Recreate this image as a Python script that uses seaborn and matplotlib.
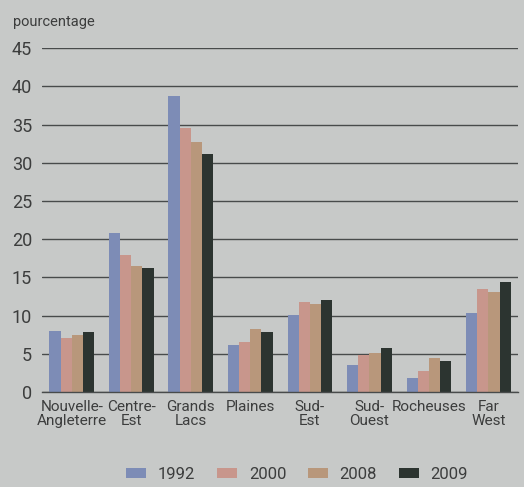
import matplotlib
matplotlib.use("Agg")
import matplotlib.pyplot as plt
import seaborn as sns
import numpy as np
import pandas as pd

# DATA
regions = ["Nouvelle-\nAngleterre", "Centre-\nEst", "Grands\nLacs", "Plaines",
           "Sud-\nEst", "Sud-\nOuest", "Rocheuses", "Far\nWest"]
years = ["1992", "2000", "2008", "2009"]
v1992 = [8.0, 20.8, 38.7, 6.2, 10.1, 3.5, 1.8, 10.4]
v2000 = [7.1, 17.9, 34.5, 6.6, 11.8, 4.8, 2.8, 13.5]
v2008 = [7.5, 16.5, 32.7, 8.3, 11.5, 5.1, 4.4, 13.1]
v2009 = [7.8, 16.2, 31.2, 7.8, 12.1, 5.7, 4.1, 14.4]
yticks = [0, 5, 10, 15, 20, 25, 30, 35, 40, 45]

colors = ["#7d8cb6", "#c8968c", "#b8977b", "#2c3430"]
bg = "#c7c9c8"
txt = "#3c3d3d"

df = pd.DataFrame({
    "region": regions * 4,
    "year": np.repeat(years, len(regions)),
    "value": v1992 + v2000 + v2008 + v2009,
})

# STYLE
sns.set_theme(style="white")
plt.rcParams["font.family"] = ["Roboto", "DejaVu Sans"]

fig = plt.figure(figsize=(5.24, 4.87), dpi=100, facecolor=bg)
ax = fig.add_axes([0.080, 0.195, 0.909, 0.706])
ax.set_facecolor(bg)

sns.barplot(data=df, x="region", y="value", hue="year", palette=colors,
            width=0.75, gap=0, linewidth=0, saturation=1, ax=ax, legend=True)

ax.set_ylim(0, 45)
ax.set_xlim(-0.5, len(regions) - 0.5)
ax.set_yticks(yticks)
ax.set_axisbelow(True)
ax.yaxis.grid(True, color="#484b4b", linewidth=1.0)
ax.xaxis.grid(False)

for s in ["top", "right", "left"]:
    ax.spines[s].set_visible(False)
ax.spines["bottom"].set_color("#484b4b")
ax.spines["bottom"].set_linewidth(1.0)

ax.tick_params(axis="y", length=0, pad=7, labelsize=13, labelcolor=txt)
ax.tick_params(axis="x", which="major", length=0, pad=6, labelsize=11, labelcolor=txt)
ax.set_xticks(np.arange(-0.5, len(regions)), minor=True)
ax.tick_params(axis="x", which="minor", length=5, width=1, color="#484b4b", direction="out")
ax.set_xlabel("")
ax.set_ylabel("")

for lab in ax.get_xticklabels():
    lab.set_linespacing(0.95)

fig.text(0.025, 0.955, "pourcentage", fontsize=10.5, color=txt, ha="left", va="center")

# LEGEND
handles, labels = ax.get_legend_handles_labels()
ax.get_legend().remove()
fig.legend(handles, labels, loc="center", bbox_to_anchor=(0.567, 0.026), ncol=4,
           frameon=False, fontsize=12, labelcolor=txt, handlelength=1.2,
           handleheight=0.6, columnspacing=1.3, handletextpad=0.7)

plt.savefig("out.png", dpi=100, facecolor=bg)
plt.close()
